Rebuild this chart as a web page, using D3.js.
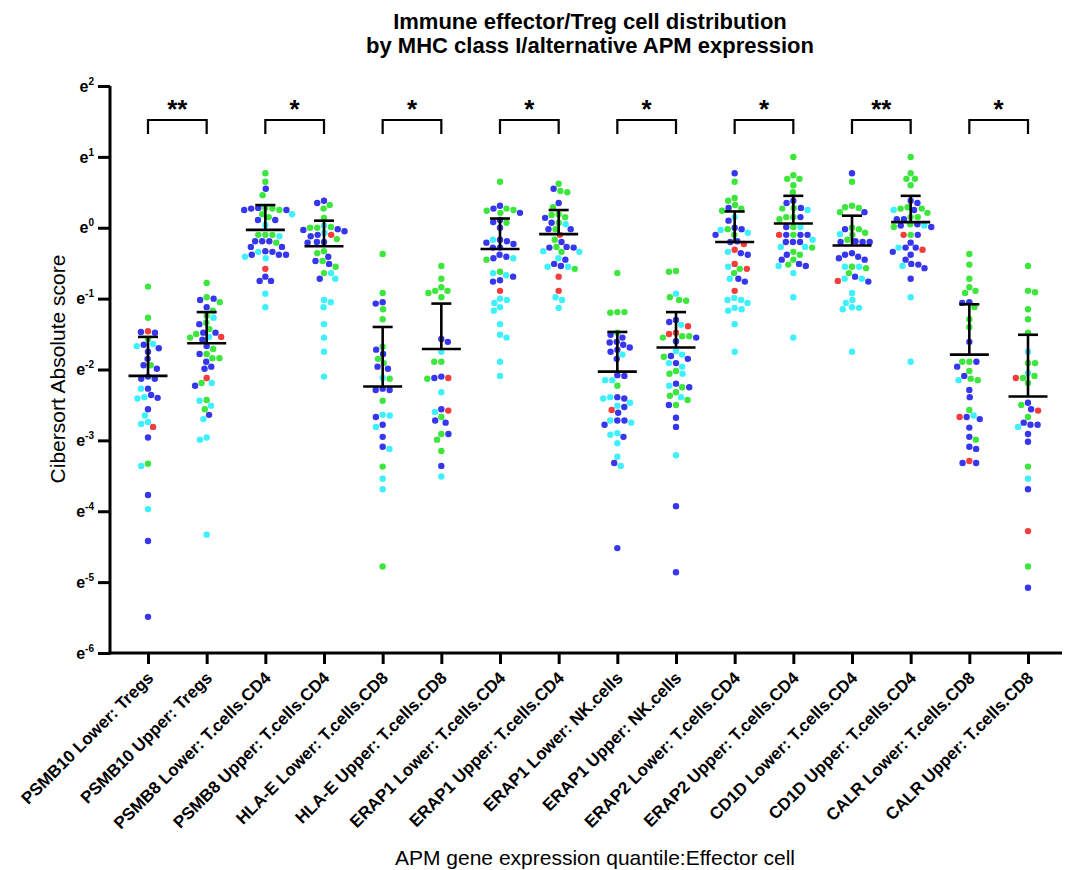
<!DOCTYPE html>
<html><head><meta charset="utf-8">
<script src="https://cdn.jsdelivr.net/npm/d3@7"></script>
<style>
body{margin:0;background:#fff}
svg{display:block}
text{font-family:"Liberation Sans",Arial,Helvetica,sans-serif}
</style>
</head><body>
<svg id="chart" width="1066" height="870"></svg>
<script>
// ---------------- DATA (values are ln(Cibersort absolute score), axis is e-based log) ----------------
const categories = [
  "PSMB10 Lower: Tregs","PSMB10 Upper: Tregs",
  "PSMB8 Lower: T.cells.CD4","PSMB8 Upper: T.cells.CD4",
  "HLA-E Lower: T.cells.CD8","HLA-E Upper: T.cells.CD8",
  "ERAP1 Lower: T.cells.CD4","ERAP1 Upper: T.cells.CD4",
  "ERAP1 Lower: NK.cells","ERAP1 Upper: NK.cells",
  "ERAP2 Lower: T.cells.CD4","ERAP2 Upper: T.cells.CD4",
  "CD1D Lower: T.cells.CD4","CD1D Upper: T.cells.CD4",
  "CALR Lower: T.cells.CD8","CALR Upper: T.cells.CD8"
];
const yTickExponents = [-6,-5,-4,-3,-2,-1,0,1,2];

const greenLn = [
 [-0.83,-1.27,-1.57,-1.94,-3.33],
 [-0.78,-0.98,-1.05,-1.17,-1.24,-1.34,-1.43,-1.50,-1.55,-1.71,-1.78,-1.84,-1.84,-2.19,-2.43,-2.56],
 [0.77,0.65,0.46,0.28,0.27,0.25,0.19,0.15,-0.10,-0.10,-0.10,-0.21],
 [0.32,0.27,0.14,0.00,0.00,0.01,-0.16,-0.33,-0.36,-0.47,-0.55,-0.64],
 [-0.37,-0.92,-1.15,-1.29,-1.68,-1.85,-1.91,-2.13,-2.44,-3.37,-4.78],
 [-0.54,-0.72,-0.84,-0.89,-0.89,-0.92,-0.98,-1.89,-1.89,-2.13,-2.67,-2.91,-2.99,-3.15],
 [0.65,0.25,0.27,0.21,0.24,0.07,-0.45,-0.62],
 [0.62,0.52,0.50,0.29,0.18,0.19,0.15,0.07,-0.02,-0.17,-0.27,-0.34,-0.58],
 [-0.64,-1.19,-1.20,-1.19,-1.48,-2.23],
 [-0.61,-0.62,-0.98,-1.02,-1.03,-1.53,-1.53,-1.55,-1.82,-2.06,-2.02,-2.25,-2.32,-2.37,-2.43,-2.50],
 [0.65,0.42,0.38,0.32,0.27,0.24,-0.10,-0.02,-0.58,-0.64],
 [1.00,0.74,0.69,0.69,0.60,0.50,0.27,0.28,0.15,0.15,0.12,0.01,-0.10,-0.28,-0.34,-0.38,-0.45,-0.52],
 [0.65,0.29,0.31,0.22,0.28,0.00,-0.02,-0.07,-0.17,-0.10,-0.55,-0.57,-0.64],
 [1.00,0.77,0.69,0.69,0.60,0.27,0.27,0.29,0.15,0.21,0.15,0.01,0.05,-0.10],
 [-0.37,-0.52,-0.72,-0.84,-0.89,-0.92,-1.12,-1.29,-1.40,-1.89,-1.89,-2.02,-2.15,-2.13,-2.57,-2.99],
 [-0.54,-0.91,-0.89,-1.15,-1.29,-1.48,-1.91,-1.91,-2.12,-2.09,-2.19,-2.50,-2.67,-3.37,-4.78]
];
const blueLn = [
 [-1.47,-1.48,-1.65,-1.70,-1.75,-1.85,-1.94,-1.99,-2.10,-2.13,-2.13,-2.27,-2.36,-2.40,-2.56,-2.96,-3.77,-4.42,-5.49],
 [-1.00,-1.02,-1.12,-1.36,-1.48,-1.48,-1.58,-1.67,-1.78,-1.89,-1.96,-1.99,-2.23,-2.64],
 [0.55,0.27,0.25,0.25,0.28,0.11,0.11,-0.19,-0.19,-0.19,-0.27,-0.27,-0.34,-0.38,-0.38,-0.38,-0.33,-0.69,-0.75,-0.75],
 [0.38,0.35,-0.02,-0.03,-0.05,-0.12,-0.10,-0.20,-0.20,-0.21,-0.41,-0.47,-0.51,-0.72],
 [-1.05,-1.07,-1.72,-1.78,-1.96,-1.99,-2.27,-2.29,-2.29,-2.67,-2.78,-2.95,-3.09],
 [-1.57,-1.61,-2.10,-2.12,-2.56,-2.72,-2.75,-2.91,-3.36],
 [0.31,0.27,0.21,0.11,0.08,0.00,-0.19,-0.17,-0.23,-0.21,-0.28,-0.28,-0.38,-0.43,-0.41,-0.69,-0.76,-0.74],
 [0.55,0.35,0.14,0.07,-0.02,-0.02,-0.20,-0.27,-0.28,-0.28,-0.45,-0.51,-0.54],
 [-1.51,-1.55,-1.61,-1.62,-1.65,-1.69,-1.72,-1.75,-1.85,-2.08,-2.09,-2.39,-2.41,-2.53,-2.61,-2.72,-2.72,-2.78,-2.95,-3.32,-4.52],
 [-1.30,-1.33,-1.55,-1.60,-1.85,-1.81,-1.91,-2.20,-2.25,-2.50,-2.68,-2.81,-3.93,-4.86],
 [0.77,0.28,0.10,-0.02,0.00,-0.10,-0.20,-0.19,-0.36,-0.38,-0.72,-0.76],
 [0.35,0.38,0.28,0.15,0.01,-0.10,-0.10,-0.10,-0.20,-0.20,-0.20,-0.38,-0.51,-0.45,-0.54],
 [0.77,0.22,-0.02,-0.20,-0.20,-0.19,-0.20,-0.38,-0.36,-0.43,-0.41,-0.45,-0.69,-0.76],
 [0.38,0.35,0.25,0.12,0.12,0.05,0.01,0.03,-0.10,-0.21,-0.28,-0.34,-0.28,-0.38,-0.45,-0.51,-0.52,-0.57,-0.72],
 [-1.05,-1.06,-1.61,-1.89,-1.96,-2.09,-2.29,-2.39,-2.70,-2.67,-2.82,-2.95,-3.09,-3.12,-3.32,-3.32],
 [-2.47,-2.56,-2.75,-2.78,-2.78,-2.91,-3.02,-3.69,-5.08]
];
const cyanLn = [
 [-1.64,-1.67,-2.27,-2.39,-2.41,-2.65,-2.74,-2.77,-3.36,-3.97],
 [-1.27,-1.54,-2.19,-2.44,-2.51,-2.70,-2.96,-2.99,-4.33],
 [0.19,0.04,-0.12,-0.41,-0.34,-0.43,-0.93,-1.12],
 [0.03,-0.07,-0.64,-0.72,-1.02,-1.05,-1.12,-1.36,-1.55,-1.75,-2.10],
 [-2.12,-2.64,-2.65,-2.81,-3.12,-3.54,-3.69],
 [-1.75,-2.32,-2.60,-3.51],
 [-0.17,-0.43,-0.64,-0.67,-1.06,-1.02,-1.00,-1.17,-1.12,-1.36,-1.55,-1.51,-1.89,-2.09],
 [0.05,-0.34,-0.33,-0.43,-0.55,-0.55,-0.98,-1.02,-1.13],
 [-1.79,-2.15,-2.15,-2.39,-2.41,-2.47,-2.51,-2.72,-2.75,-2.90,-2.92,-3.04,-3.23,-3.36],
 [-0.93,-1.37,-1.79,-1.74,-1.91,-1.96,-2.06,-2.23,-2.39,-3.21],
 [0.15,-0.03,-0.07,-0.34,-0.55,-0.72,-0.99,-1.06,-1.02,-1.02,-1.15,-1.17,-1.13,-1.36,-1.75],
 [0.25,0.01,-0.17,-0.27,-0.27,-0.54,-0.64,-0.98,-1.55],
 [-0.09,-0.55,-0.55,-0.72,-0.72,-0.92,-1.02,-1.13,-1.12,-1.06,-1.15,-1.75],
 [0.25,0.03,-0.28,-0.54,-0.98,-1.89],
 [-2.15,-2.65],
 [-1.75,-2.05,-2.81,-3.54]
];
const redLn = [
 [-1.46,-2.81],
 [-1.54,-2.12],
 [-0.58],
 [-0.10],
 [],
 [-2.12,-2.58],
 [-0.89],
 [-0.10,-0.69,-0.89],
 [-2.57],
 [-1.39,-1.48,-1.50],
 [-0.23,-0.31,-0.51,-0.58,-0.89],
 [-0.10],
 [-0.75],
 [-0.10,-0.31],
 [-2.67,-3.29],
 [-2.12,-2.58,-4.28]
];
// group centre line and upper error-bar end (lower end falls below axis range)
const centerLn = [-2.09,-1.63,-0.03,-0.26,-2.24,-1.71,-0.30,-0.09,-2.03,-1.69,-0.20,0.06,-0.25,0.08,-1.79,-2.38];
const upperLn  = [-1.54,-1.19,0.32,0.10,-1.40,-1.07,0.13,0.25,-1.47,-1.19,0.23,0.45,0.17,0.45,-1.08,-1.51];
// significance brackets between Lower/Upper pairs
const pairLeft  = [0,2,4,6,8,10,12,14];
const pairStars = ["**","*","*","*","*","*","**","*"];

const seriesColors = {green:"#3de63d", blue:"#3636ee", cyan:"#3ef0fc", red:"#f43c3c"};

// ---------------- CHART ----------------
const svg = d3.select("#chart");
const y = d3.scaleLinear().domain([-6, 2]).range([653, 86]);
const x = d3.scalePoint().domain(categories).range([148, 1028]);

// title
const title = svg.append("text").attr("text-anchor","middle")
  .attr("font-size", 22).attr("font-weight","bold").attr("fill","#000");
title.append("tspan").attr("x",590).attr("y",29).text("Immune effector/Treg cell distribution");
title.append("tspan").attr("x",590).attr("y",53).text("by MHC class I/alternative APM expression");

// points with beeswarm offsets
const R = 3.2, GAP = 0.7, D = 2*R + GAP;
const allPts = [];
categories.forEach((c, i) => {
  const pts = [];
  [["green",greenLn],["blue",blueLn],["cyan",cyanLn],["red",redLn]].forEach(([name, arr]) => {
    arr[i].forEach(v => pts.push({cat:c, v, color:name, py:y(v)}));
  });
  pts.sort((a,b) => a.py - b.py);
  const placed = [];
  pts.forEach((p, k) => {
    const forb = [];
    placed.forEach(q => {
      const dy = Math.abs(q.py - p.py);
      if (dy < D) { const dx = Math.sqrt(D*D - dy*dy); forb.push([q.dx - dx, q.dx + dx]); }
    });
    const cands = [0];
    forb.forEach(f => cands.push(f[0], f[1]));
    const sgn = (k % 2) ? 1 : -1;
    cands.sort((a,b) => (Math.abs(a) - Math.abs(b)) || (sgn*(a-b)));
    let best = 0;
    for (const cnd of cands) {
      if (forb.every(f => cnd <= f[0] + 1e-6 || cnd >= f[1] - 1e-6)) { best = cnd; break; }
    }
    p.dx = best; placed.push(p);
  });
  allPts.push(...pts);
});

svg.append("g").selectAll("circle").data(allPts).join("circle")
  .attr("cx", d => x(d.cat) + d.dx).attr("cy", d => d.py).attr("r", R)
  .attr("fill", d => seriesColors[d.color]);

// centre line + upper error bar
const eb = svg.append("g").attr("stroke","#000").attr("stroke-width",2.6).attr("fill","none");
categories.forEach((c,i) => {
  const cx = x(c);
  eb.append("line").attr("x1",cx-19.5).attr("x2",cx+19.5).attr("y1",y(centerLn[i])).attr("y2",y(centerLn[i]));
  eb.append("line").attr("x1",cx).attr("x2",cx).attr("y1",y(centerLn[i])).attr("y2",y(upperLn[i]));
  eb.append("line").attr("x1",cx-10).attr("x2",cx+10).attr("y1",y(upperLn[i])).attr("y2",y(upperLn[i]));
});

// significance brackets
const br = svg.append("g");
pairLeft.forEach((li, k) => {
  const x1 = x(categories[li]), x2 = x(categories[li+1]);
  br.append("path").attr("d", `M${x1},134V120H${x2}V134`)
    .attr("fill","none").attr("stroke","#000").attr("stroke-width",2.2);
  br.append("text").attr("x",(x1+x2)/2).attr("y",118).attr("text-anchor","middle")
    .attr("font-size",26).attr("font-weight","bold").text(pairStars[k]);
});

// y axis
const yAxisG = svg.append("g").attr("transform","translate(110,0)")
  .call(d3.axisLeft(y).tickValues(yTickExponents).tickSize(12).tickSizeOuter(0));
yAxisG.select(".domain").remove();
yAxisG.selectAll(".tick line").attr("stroke","#000").attr("stroke-width",3);
yAxisG.selectAll(".tick text").each(function(d){
  const t = d3.select(this);
  t.text(null).attr("x",-16).attr("dy","0.32em").attr("font-size",16).attr("font-weight","bold")
   .attr("fill","#000").attr("font-family",null);
  t.append("tspan").text("e");
  t.append("tspan").attr("dy",-7).attr("font-size",10).text(d);
});
svg.append("line").attr("x1",110).attr("x2",110).attr("y1",86).attr("y2",654.5)
  .attr("stroke","#000").attr("stroke-width",3);

// x axis
const xAxisG = svg.append("g").attr("transform","translate(0,653)")
  .call(d3.axisBottom(x).tickSize(11).tickSizeOuter(0));
xAxisG.select(".domain").remove();
xAxisG.selectAll(".tick line").attr("stroke","#000").attr("stroke-width",3);
xAxisG.selectAll(".tick text")
  .attr("x",0).attr("y",0).attr("dy",0)
  .attr("transform","translate(6,26) rotate(-45)")
  .attr("text-anchor","end").attr("font-size",17).attr("font-weight","bold")
  .attr("fill","#000").attr("font-family",null);
svg.append("line").attr("x1",108.5).attr("x2",1062).attr("y1",653).attr("y2",653)
  .attr("stroke","#000").attr("stroke-width",3);

// axis titles
svg.append("text").attr("transform","translate(65,369) rotate(-90)")
  .attr("text-anchor","middle").attr("font-size",21).attr("fill","#000")
  .text("Cibersort Absolute score");
svg.append("text").attr("x",595).attr("y",865).attr("text-anchor","middle")
  .attr("font-size",21).attr("fill","#000")
  .text("APM gene expression quantile:Effector cell");
</script>
</body></html>
